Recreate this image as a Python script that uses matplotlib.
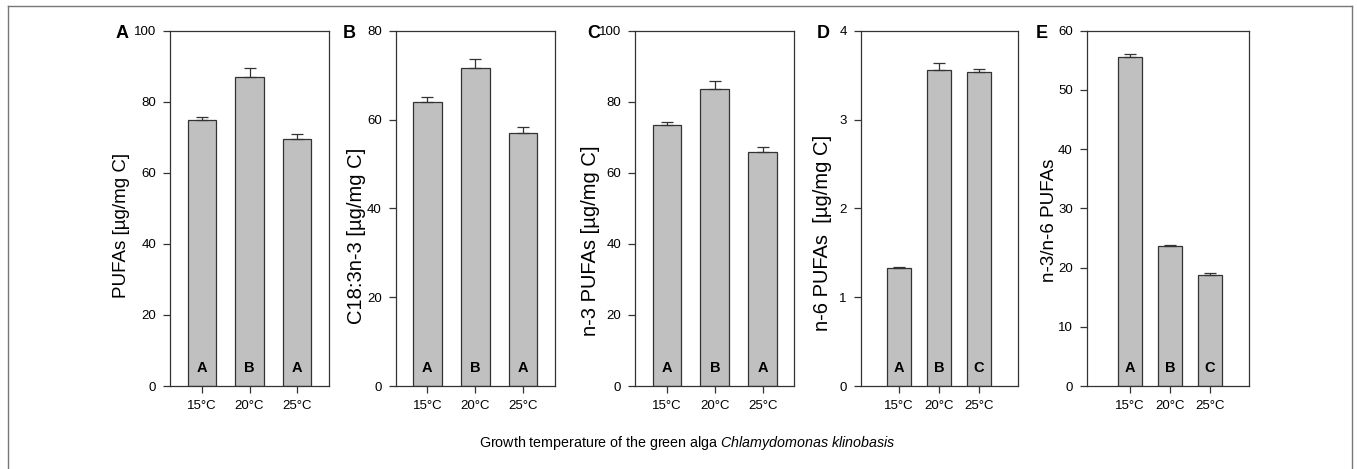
import matplotlib
matplotlib.use("Agg")
import matplotlib.pyplot as plt
from matplotlib.lines import Line2D
import numpy as np

plt.rcParams['font.family'] = ['Liberation Sans', 'DejaVu Sans']
plt.rcParams['mathtext.fontset'] = 'custom'
plt.rcParams['mathtext.rm'] = 'Liberation Sans'
plt.rcParams['mathtext.it'] = 'Liberation Sans:italic'

temps = ['15°C', '20°C', '25°C']

pufa = [74.8, 87.1, 69.5]
pufa_err = [1.0, 2.3, 1.5]
c18 = [64.0, 71.6, 57.0]
c18_err = [1.0, 2.1, 1.4]
n3 = [73.5, 83.5, 65.9]
n3_err = [0.9, 2.3, 1.4]
n6 = [1.332, 3.553, 3.538]
n6_err = [0.01, 0.08, 0.03]
ratio = [55.5, 23.6, 18.7]
ratio_err = [0.55, 0.15, 0.3]

groups_abc = ['A', 'B', 'A']
groups_de = ['A', 'B', 'C']

W, H = 1357, 469
fig = plt.figure(figsize=(W / 100, H / 100), dpi=100)

# letter, values, errors, ylabel, ymax, yticks, groups,
# axes px left/right, xlim, bar width, ylabel x px, ylabel y frac, ylabel size, letter x px
panels = [
    ('A', pufa, pufa_err, 'PUFAs [µg/mg C]', 100, [0, 20, 40, 60, 80, 100], groups_abc,
     170, 329, (0.326, 3.674), 0.61, 121.7, 0.452, 13.5, 122),
    ('B', c18, c18_err, 'C18:3n-3 [µg/mg C]', 80, [0, 20, 40, 60, 80], groups_abc,
     395.7, 554.7, (0.34, 3.66), 0.6, 357, 0.422, 14.5, 349),
    ('C', n3, n3_err, 'n-3 PUFAs [µg/mg C]', 100, [0, 20, 40, 60, 80, 100], groups_abc,
     635, 793.7, (0.33, 3.65), 0.6, 590, 0.408, 14.5, 594),
    ('D', n6, n6_err, 'n-6 PUFAs  [µg/mg C]', 4, [0, 1, 2, 3, 4], groups_de,
     860.7, 1018.3, (0.035, 3.98), 0.6, 823, 0.431, 14.5, 823),
    ('E', ratio, ratio_err, 'n-3/n-6 PUFAs', 60, [0, 10, 20, 30, 40, 50, 60], groups_de,
     1086.7, 1249.3, (-0.09, 3.98), 0.6, 1050, 0.467, 13.5, 1042),
]

top_px, bot_px = 30.7, 386
edge = '#333333'
x = np.arange(1, 4)

for (letter, vals, errs, ylab, ymax, yticks, grp,
     lpx, rpx, xlim, bw, labx, laby, labsize, letx) in panels:
    ax = fig.add_axes([lpx / W, (H - bot_px) / H, (rpx - lpx) / W, (bot_px - top_px) / H])
    ax.bar(x, vals, width=bw, color='#c0c0c0', edgecolor=edge, linewidth=0.9, zorder=2)
    ax.errorbar(x, vals, yerr=[np.zeros(3), errs], fmt='none', ecolor=edge,
                elinewidth=0.9, capsize=4, capthick=0.9, zorder=3)
    ax.set_xlim(*xlim)
    ax.set_ylim(0, ymax)
    ax.set_yticks(yticks)
    ax.set_xticks(x)
    ax.set_xticklabels(temps)
    ax.tick_params(direction='out', length=5, width=0.9, color=edge,
                   labelsize=9.5, labelcolor='black', pad=5)
    for s in ax.spines.values():
        s.set_color(edge)
        s.set_linewidth(0.9)
    ax.set_ylabel(ylab, fontsize=labsize, va='center')
    ax.yaxis.set_label_coords((labx - lpx) / (rpx - lpx), laby)
    for xi, g in zip(x, grp):
        ax.text(xi, 0.05, g, transform=ax.get_xaxis_transform(), ha='center',
                va='center', fontsize=10.5, fontweight='bold')
    fig.text(letx / W, 1 - 33 / H, letter, ha='center', va='center',
             fontsize=13, fontweight='bold')

fig.text(687 / W, 1 - 443 / H,
         'Growth temperature of the green alga $\\it{Chlamydomonas\\ klinobasis}$',
         ha='center', va='center', fontsize=10.3)

# outer frame
fc = '#777777'
fig.add_artist(Line2D([7.5 / W, 7.5 / W], [0, 1 - 6 / H], transform=fig.transFigure, color=fc, lw=1))
fig.add_artist(Line2D([7.5 / W, 1352 / W], [1 - 6 / H, 1 - 6 / H], transform=fig.transFigure, color=fc, lw=1))
fig.add_artist(Line2D([1352 / W, 1352 / W], [0, 1 - 6 / H], transform=fig.transFigure, color=fc, lw=1))

fig.savefig('out.png', dpi=100, facecolor='white')
